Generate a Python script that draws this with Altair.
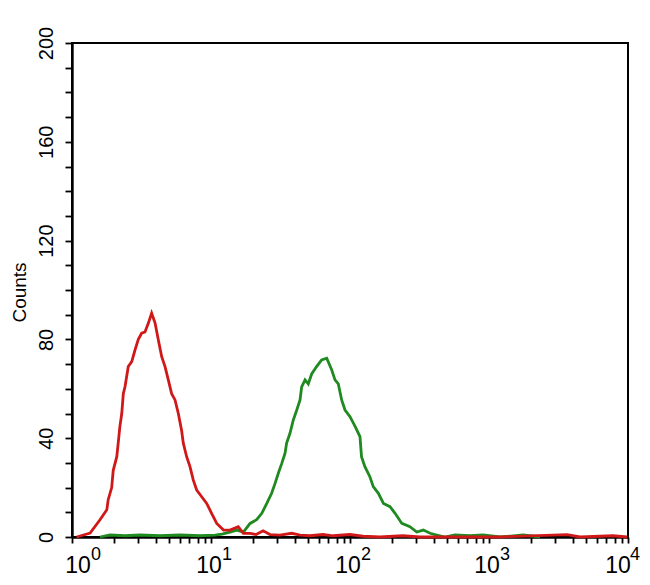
import altair as alt
import pandas as pd

# ---- data (fluorescence value, counts) ----
red_x = [1.08, 1.35, 1.59, 1.78, 1.82, 1.93, 1.98, 2.10, 2.15, 2.21, 2.28, 2.34, 2.41,
         2.54, 2.69, 2.84, 3.00, 3.17, 3.35, 3.54, 3.74, 3.96, 4.18, 4.42, 4.67, 4.93,
         5.21, 5.51, 5.82, 6.15, 6.32, 6.68, 7.06, 7.46, 7.89, 8.57, 9.31, 10.1, 11.0,
         12.3, 13.7, 15.7, 17.1, 19.1, 21.1, 23.7, 26.6, 31.3, 38.1, 43.7, 51.5, 63.9,
         75.5, 100, 124, 164, 240, 319, 1200, 3640, 4520, 7800, 9840]
red_counts = [0, 1.6, 7, 11, 15, 20, 27, 32.5, 38, 44.7, 50, 58, 61,
              69, 71, 75.7, 80, 82.5, 83, 86.5, 90.6, 86.6, 79.8, 73, 69, 63.6,
              58, 55.5, 50, 43, 38, 32.5, 28.5, 23, 19, 16.3, 13.6, 9.6, 5.5,
              2.8, 2.8, 4.2, 1.5, 1.5, 1, 2.5, 1, 0.8, 1.5, 0.8, 0.5, 1,
              0.5, 1, 0.3, 0, 0.5, 0, 0, 1, 0, 0.5, 0]

green_x = [1.59, 1.88, 2.41, 3.09, 4.30, 5.98, 8.34, 10.7, 12.0, 13.7, 15.3, 17.1, 19.1,
           21.3, 23.2, 25.2, 27.3, 28.9, 30.5, 32.3, 34.1, 35.0, 37.0, 39.1, 41.4, 43.7,
           44.9, 47.5, 50.1, 53.0, 57.5, 62.5, 68.0, 73.9, 78.0, 82.4, 87.1, 92.1, 100,
           109, 118, 121, 128, 139, 147, 160, 174, 194, 211, 236, 270, 302, 337, 377,
           421, 482, 569, 730, 906, 1200, 1760, 2330]
green_counts = [0, 0.8, 0.5, 0.8, 0.5, 0.8, 0.5, 0.8, 1.2, 2, 2.8, 2, 5.5,
                7, 9.6, 13.6, 17.7, 21.7, 25.8, 29.8, 33.9, 38, 42, 47.4, 51.4, 55.5,
                60.8, 63.6, 62, 66, 69, 71.7, 72.4, 67.6, 63.6, 62, 55.5, 51.4, 48.7,
                44.7, 40.6, 32.5, 28.5, 24.4, 20.4, 17.7, 13.6, 12.3, 9.6, 5.5, 4.2, 2, 2.8, 1.5,
                0.8, 0, 0.8, 0.5, 0.8, 0, 0.8, 0]

# axis ticks and labels
decades = [1, 10, 100, 1000, 10000]
exponents = ["0", "1", "2", "3", "4"]
x_ticks = [1, 2, 3, 4, 5, 6, 7, 8, 9,
           10, 20, 30, 40, 50, 60, 70, 80, 90,
           100, 200, 300, 400, 500, 600, 700, 800, 900,
           1000, 2000, 3000, 4000, 5000, 6000, 7000, 8000, 9000, 10000]
y_ticks = [0, 10, 20, 30, 40, 50, 60, 70, 80, 90, 100,
           110, 120, 130, 140, 150, 160, 170, 180, 190, 200]

FONT = "Liberation Sans"
RED = "#d01818"
GREEN = "#1f8a1f"

red_df = pd.DataFrame({"x": red_x, "count": red_counts})
green_df = pd.DataFrame({"x": green_x, "count": green_counts})
lbl_df = pd.DataFrame({"x": decades, "exp": exponents})

xscale = alt.Scale(type="log", domain=[1, 10000], nice=False)
yscale = alt.Scale(domain=[0, 200], nice=False, zero=True)

x_axis = alt.Axis(values=x_ticks, labels=False, title=None, grid=False,
                  tickSize=6, tickWidth=1.8, tickColor="black",
                  domainColor="black", domainWidth=2.4)
y_axis = alt.Axis(values=y_ticks, grid=False,
                  labelExpr="datum.value % 40 == 0 ? datum.label : ''",
                  labelAngle=270, labelAlign="center", labelBaseline="alphabetic",
                  labelPadding=13, labelFontSize=20, labelFont=FONT, labelColor="black",
                  tickSize=7, tickWidth=1.8, tickColor="black",
                  domainColor="black", domainWidth=2.4,
                  title="Counts", titleAngle=270, titleFontSize=19, titleFont=FONT,
                  titleFontWeight="normal", titleColor="black",
                  titleX=-47, titleY=249, titleBaseline="alphabetic", titleAlign="center")

X = alt.X("x:Q", scale=xscale, axis=x_axis)


def line(df, color):
    return alt.Chart(df).mark_line(color=color, strokeWidth=2.8).encode(
        x=X, y=alt.Y("count:Q", scale=yscale, axis=y_axis))


def labels(flt, dx10, dxsup):
    base = alt.Chart(lbl_df).transform_filter(flt)
    tens = base.mark_text(
        text="10", font=FONT, fontSize=23, align="center", baseline="alphabetic",
        dx=dx10, dy=36, color="black"
    ).encode(x=X, y=alt.Y(datum=0, scale=yscale, axis=y_axis))
    sups = base.mark_text(
        font=FONT, fontSize=18, align="left", baseline="alphabetic",
        dx=dxsup, dy=23, color="black"
    ).encode(x=X, y=alt.Y(datum=0, scale=yscale, axis=y_axis), text="exp:N")
    return [tens, sups]


layers = [line(green_df, GREEN), line(red_df, RED)]
layers += labels("datum.x == 1", 6, 19)
layers += labels("datum.x > 1 && datum.x < 10000", -2, 11)
layers += labels("datum.x == 10000", -10, 2)

chart = alt.layer(*layers).properties(
    width=556, height=494,
    autosize=alt.AutoSizeParams(type="none"),
    padding={"left": 64, "top": 35, "right": 14, "bottom": 40},
    background="white",
).configure_view(stroke="black", strokeWidth=2)

chart.save("out.html", embed_options={"renderer": "svg", "actions": False})
